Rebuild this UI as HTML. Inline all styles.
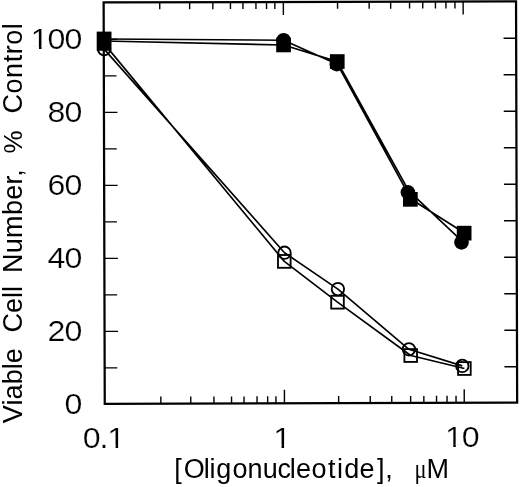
<!DOCTYPE html><html><head><meta charset="utf-8"><title>Chart</title><style>html,body{margin:0;padding:0;background:#fff}svg{display:block}text{font-family:"Liberation Sans",sans-serif;fill:#000}</style></head><body>
<svg width="520" height="487" viewBox="0 0 520 487">
<rect width="520" height="487" fill="#fff"/>
<g transform="rotate(-0.16 310 203)">
<rect x="104.2" y="1.9" width="412.4" height="401.3" fill="none" stroke="#000" stroke-width="2.25"/>
<path d="M160.3 403.2v-7M160.3 1.9v7 M190.2 403.2v-7M190.2 1.9v7 M213.4 403.2v-7M213.4 1.9v7 M231.0 403.2v-7M231.0 1.9v7 M243.5 403.2v-7M243.5 1.9v7 M256.5 403.2v-7M256.5 1.9v7 M267.1 403.2v-7M267.1 1.9v7 M275.4 403.2v-7M275.4 1.9v7 M283.9 403.2v-13.5M283.9 1.9v13 M338.1 403.2v-7M338.1 1.9v7 M369.7 403.2v-7M369.7 1.9v7 M391.2 403.2v-7M391.2 1.9v7 M410.1 403.2v-7M410.1 1.9v7 M423.3 403.2v-7M423.3 1.9v7 M436.0 403.2v-7M436.0 1.9v7 M446.5 403.2v-7M446.5 1.9v7 M455.5 403.2v-7M455.5 1.9v7 M463.7 403.2v-13.5M463.7 1.9v13 M104.2 367.3h12.7M516.6 367.3h-12.6 M104.2 330.8h13.5M516.6 330.8h-12.6 M104.2 294.3h12.7M516.6 294.3h-12.6 M104.2 257.8h13.5M516.6 257.8h-12.6 M104.2 221.3h12.7M516.6 221.3h-12.6 M104.2 184.8h13.5M516.6 184.8h-12.6 M104.2 148.3h12.7M516.6 148.3h-12.6 M104.2 111.8h13.5M516.6 111.8h-12.6 M104.2 75.3h12.7M516.6 75.3h-12.6 M104.2 38.8h13.5M516.6 38.8h-12.6" stroke="#000" stroke-width="1.4" fill="none"/>
</g>
<path d="M104.1 49.1 L284.5 252.7 L337.9 289.1 L408.9 349.3 L462.3 365.9 M104.1 43.6 L284.3 261.4 L337.5 302.2 L410.7 355.5 L464.4 368.5 M104.1 39.0 L283.6 40.2 L336.8 64.1 M336.8 63.0 L407.4 192.3 M409.0 191.1 L461.5 240.7 M104.1 41.0 L283.6 45.0 L337.3 61.6 M337.3 61.6 L413.5 199.3 M410.4 198.8 L464.1 232.8" stroke="#000" stroke-width="1.65" fill="none" stroke-linejoin="round"/>
<rect x="278.0" y="255.0" width="12.6" height="12.8" fill="none" stroke="#000" stroke-width="1.85"/>
<rect x="331.2" y="295.8" width="12.6" height="12.8" fill="none" stroke="#000" stroke-width="1.85"/>
<rect x="404.4" y="349.1" width="12.6" height="12.8" fill="none" stroke="#000" stroke-width="1.85"/>
<rect x="458.1" y="362.1" width="12.6" height="12.8" fill="none" stroke="#000" stroke-width="1.85"/>
<circle cx="104.1" cy="49.1" r="6.2" fill="none" stroke="#000" stroke-width="1.85"/>
<circle cx="284.5" cy="252.7" r="6.2" fill="none" stroke="#000" stroke-width="1.85"/>
<circle cx="337.9" cy="289.1" r="6.2" fill="none" stroke="#000" stroke-width="1.85"/>
<circle cx="408.9" cy="349.3" r="6.2" fill="none" stroke="#000" stroke-width="1.85"/>
<circle cx="462.3" cy="365.9" r="6.2" fill="none" stroke="#000" stroke-width="1.85"/>
<circle cx="283.6" cy="40.2" r="7.3" fill="#000"/>
<circle cx="336.8" cy="64.1" r="7.3" fill="#000"/>
<circle cx="407.9" cy="192.3" r="7.3" fill="#000"/>
<circle cx="461.5" cy="242.4" r="7.3" fill="#000"/>
<rect x="276.2" y="37.6" width="14.7" height="14.7" fill="#000"/>
<rect x="329.9" y="54.2" width="14.7" height="14.7" fill="#000"/>
<rect x="403.0" y="192.0" width="14.7" height="14.7" fill="#000"/>
<rect x="456.8" y="225.8" width="14.7" height="14.7" fill="#000"/>
<rect x="96.7" y="31.6" width="14.8" height="19.2" fill="#000"/>
<g stroke="#fff" stroke-width="0">
<g transform="translate(64.40 414.2) scale(1.06 1)">
<text font-size="30.3" letter-spacing="-1.0" stroke-width="0.24">0</text>
</g>
<g transform="translate(47.59 341.2) scale(1.06 1)">
<text font-size="30.3" letter-spacing="-1.0" stroke-width="0.24">20</text>
</g>
<g transform="translate(47.59 268.2) scale(1.06 1)">
<text font-size="30.3" letter-spacing="-1.0" stroke-width="0.24">40</text>
</g>
<g transform="translate(47.59 195.2) scale(1.06 1)">
<text font-size="30.3" letter-spacing="-1.0" stroke-width="0.24">60</text>
</g>
<g transform="translate(47.59 122.2) scale(1.06 1)">
<text font-size="30.3" letter-spacing="-1.0" stroke-width="0.24">80</text>
</g>
<g transform="translate(30.79 49.2) scale(1.06 1)">
<text font-size="30.3" letter-spacing="-1.0" stroke-width="0.24">100</text>
<rect x="1.50" y="-3" width="6.25" height="4.6" fill="#fff" stroke="none"/><rect x="10.17" y="-3" width="5.6" height="4.6" fill="#fff" stroke="none"/>
</g>
<g transform="translate(82.70 448) scale(1.06 1)">
<text font-size="30.3" letter-spacing="-1.0" stroke-width="0.24">0.1</text>
<rect x="24.77" y="-3" width="6.25" height="4.6" fill="#fff" stroke="none"/><rect x="33.44" y="-3" width="5.6" height="4.6" fill="#fff" stroke="none"/>
</g>
<g transform="translate(273.30 447.5) scale(1.06 1)">
<text font-size="30.3" letter-spacing="-1.0" stroke-width="0.24">1</text>
<rect x="1.50" y="-3" width="6.25" height="4.6" fill="#fff" stroke="none"/><rect x="10.17" y="-3" width="5.6" height="4.6" fill="#fff" stroke="none"/>
</g>
<g transform="translate(445.00 447.3) scale(1.06 1)">
<text font-size="30.3" letter-spacing="-1.0" stroke-width="0.24">10</text>
<rect x="1.50" y="-3" width="6.25" height="4.6" fill="#fff" stroke="none"/><rect x="10.17" y="-3" width="5.6" height="4.6" fill="#fff" stroke="none"/>
</g>
<text x="174.2 183.8 203.8 209.6 216.2 232.5 247.5 262.8 277.6 289.7 296.0 311.6 328.1 337.0 344.2 359.5 377.1 385.2" y="478" font-size="27">[Oligonucleotide],</text>
<text transform="translate(414.6 478) scale(0.8 1)" font-size="28" font-family="Liberation Serif, serif" style="font-family:'Liberation Serif',serif">μ</text>
<text x="426.4" y="478" font-size="27">M</text>
<text transform="translate(22.2 423.2) rotate(-90)" font-size="27" letter-spacing="0.1" stroke="none">Viable</text>
<text transform="translate(22.2 332.5) rotate(-90)" font-size="27" letter-spacing="0" stroke="none">Cell</text>
<text transform="translate(22.2 273) rotate(-90)" font-size="27" letter-spacing="0.3" stroke="none">Number,</text>
<text transform="translate(22.2 153.6) rotate(-90)" font-size="26" letter-spacing="0" stroke="none">%</text>
<text transform="translate(22.2 113.5) rotate(-90)" font-size="27" letter-spacing="0.55" stroke="none">Control</text>
</g>
</svg></body></html>
